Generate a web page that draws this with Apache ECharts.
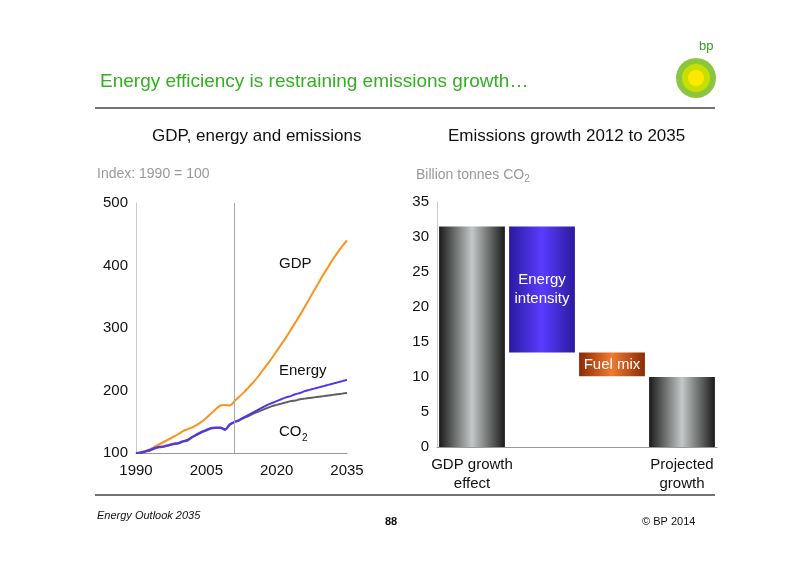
<!DOCTYPE html><html><head><meta charset="utf-8">
<script src="https://cdn.jsdelivr.net/npm/echarts@6/dist/echarts.min.js"></script>
<style>html,body{margin:0;background:#fff}#c{width:800px;height:566px}</style></head><body><div id="c"></div>
<script>
const years=[];for(let y=1990;y<=2035;y++)years.push(y);
const gdp=[100,101,103,106,110,114,118,122,126,130,135,138,141,145,150,156,163,170,176,177,176,183,190,197,205,213,222,232,242,252,263,274,285,297,309,321,334,347,360,373,386,398,410,421,431,440];
const energy=[100,101,103,105,108,110,111,113,115,116,119,121,126,130,134,137,140,141,141,138,146,150,153,157,161,165,169,173,177,180,183,186,189,191,194,196,199,201,203,205,207,209,211,213,215,217];
const co2=[100,100,102,104,107,109,110,112,114,115,118,120,125,129,133,136,139,140,140,137,145,149,152,156,159,163,166,169,172,175,177,179,181,183,184,186,187,188,189,190,191,192,193,194,195,196];
const cats=['GDP growth\neffect','','','Projected\ngrowth'];
const base=[0,13.5,10.1,0];
const vals=[31.5,18,3.4,10];
const F='Liberation Sans';
const grey={type:'linear',x:0,y:0,x2:1,y2:0,colorStops:[{offset:0,color:'#1a1a1a'},{offset:0.5,color:'#c4c8c8'},{offset:1,color:'#1a1a1a'}]};
const blue={type:'linear',x:0,y:0,x2:1,y2:0,colorStops:[{offset:0,color:'#2a1aa0'},{offset:0.5,color:'#5a3cff'},{offset:1,color:'#2a1aa0'}]};
const orange={type:'linear',x:0,y:0,x2:1,y2:0,colorStops:[{offset:0,color:'#8a2a05'},{offset:0.5,color:'#f07a30'},{offset:1,color:'#8a2a05'}]};
const colors=[grey,blue,orange,grey];
const ch=echarts.init(document.getElementById('c'));
const tick={color:'#111',fontSize:15,fontFamily:F};
ch.setOption({animation:false,textStyle:{fontFamily:F},
grid:[{left:136,top:203,width:211,height:250},{left:437,top:202,width:280,height:245}],
title:[{text:'Energy efficiency is restraining emissions growth…',left:95,top:67,textStyle:{color:'#33b020',fontSize:19,fontWeight:'normal'}},
{text:'GDP, energy and emissions',left:147,top:123,textStyle:{fontSize:17,fontWeight:'normal',color:'#111'}},
{text:'Emissions growth 2012 to 2035',left:443,top:123,textStyle:{fontSize:17,fontWeight:'normal',color:'#111'}},
{text:'Index: 1990 = 100',left:92,top:162,textStyle:{fontSize:14,fontWeight:'normal',color:'#999'}},
{text:'{a|Billion tonnes CO}{b|2}',left:411,top:161,textStyle:{fontWeight:'normal',rich:{a:{fontSize:14,color:'#999',fontWeight:'normal'},b:{fontSize:10,color:'#999',fontWeight:'normal',padding:[8,0,0,0]}}}}],
xAxis:[{type:'value',gridIndex:0,min:1990,max:2035,interval:15,axisLabel:{...tick,margin:10,formatter:v=>String(v)},axisTick:{show:false},axisLine:{lineStyle:{color:'#999'}},splitLine:{show:false}},
{type:'category',gridIndex:1,data:cats,axisLabel:{...tick,interval:0,lineHeight:19,margin:8},axisTick:{show:false},axisLine:{lineStyle:{color:'#999'}}}],
yAxis:[{type:'value',gridIndex:0,min:100,max:500,interval:100,axisLabel:tick,axisTick:{show:false},axisLine:{show:true,lineStyle:{color:'#ccc'}},splitLine:{show:false}},
{type:'value',gridIndex:1,min:0,max:35,interval:5,axisLabel:tick,axisTick:{show:false},axisLine:{show:true,lineStyle:{color:'#ccc'}},splitLine:{show:false}}],
series:[
{type:'line',data:years.map((y,i)=>[y,gdp[i]]),showSymbol:false,smooth:0.3,lineStyle:{color:'#f7941d',width:2},color:'#f7941d',
 markLine:{silent:true,symbol:'none',label:{show:false},lineStyle:{color:'#aaa',width:1,type:'solid'},data:[[{coord:[2011,100]},{coord:[2011,500]}]]}},
{type:'line',data:years.map((y,i)=>[y,co2[i]]),showSymbol:false,smooth:0.3,lineStyle:{color:'#5c6060',width:2}},
{type:'line',data:years.map((y,i)=>[y,energy[i]]),showSymbol:false,smooth:0.3,lineStyle:{color:'#5533ee',width:2}},
{type:'bar',xAxisIndex:1,yAxisIndex:1,stack:'w',data:base,itemStyle:{color:'transparent'},barCategoryGap:'6%'},
{type:'bar',xAxisIndex:1,yAxisIndex:1,stack:'w',barCategoryGap:'6%',data:vals.map((v,i)=>({value:v,itemStyle:{color:colors[i]}})),
 label:{show:true,position:'inside',color:'#fff',fontSize:15,lineHeight:19,formatter:p=>p.dataIndex==1?'Energy\nintensity':p.dataIndex==2?'Fuel mix':''}}
],
graphic:[
{type:'text',left:279,top:256,style:{text:'GDP',fontSize:15,fill:'#111',fontFamily:F}},
{type:'text',left:279,top:363,style:{text:'Energy',fontSize:15,fill:'#111',fontFamily:F}},
{type:'text',left:279,top:424,style:{text:'CO',fontSize:15,fill:'#111',fontFamily:F}},
{type:'text',left:302,top:433,style:{text:'2',fontSize:10,fill:'#111',fontFamily:F}},
{type:'line',shape:{x1:95,y1:108,x2:715,y2:108},style:{stroke:'#444',lineWidth:1.5}},
{type:'line',shape:{x1:95,y1:495,x2:715,y2:495},style:{stroke:'#444',lineWidth:1.5}},
{type:'text',left:97,top:510,style:{text:'Energy Outlook 2035',fontSize:11,fontStyle:'italic',fill:'#111',fontFamily:F}},
{type:'text',left:385,top:516,style:{text:'88',fontSize:11,fontWeight:'bold',fill:'#111',fontFamily:F}},
{type:'text',left:642,top:516,style:{text:'© BP 2014',fontSize:11,fill:'#111',fontFamily:F}},
{type:'circle',shape:{cx:696,cy:78,r:20},style:{fill:'#8cc63f'}},
{type:'circle',shape:{cx:696,cy:78,r:14},style:{fill:'#c8e000'}},
{type:'circle',shape:{cx:696,cy:78,r:8},style:{fill:'#ffe800'}},
{type:'text',left:699,top:40,style:{text:'bp',fontSize:13,fill:'#33a020',fontFamily:F}}
]});
</script></body></html>
